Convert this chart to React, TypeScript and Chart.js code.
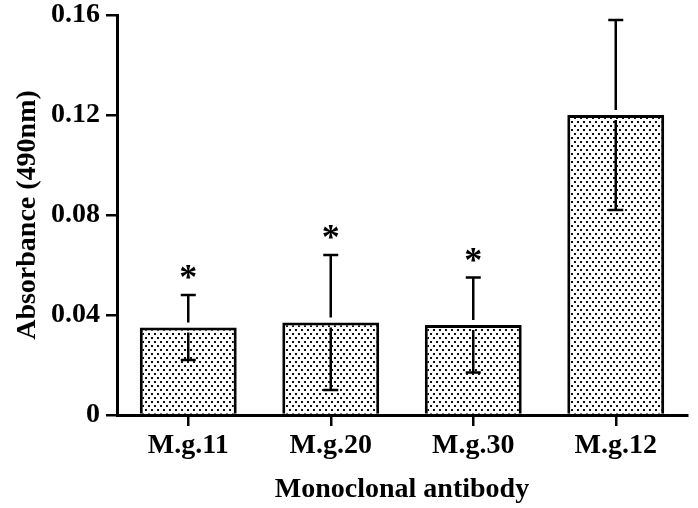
import React, { useEffect, useRef } from "react";
import { Chart, registerables } from "chart.js";

Chart.register(...registerables);

const categories = ["M.g.11", "M.g.20", "M.g.30", "M.g.12"];
const meanValues = [0.035, 0.037, 0.036, 0.12];
const upperValues = [0.048, 0.064, 0.055, 0.158];
const lowerValues = [0.022, 0.01, 0.017, 0.082];
const significant = [true, true, true, false];
const yTicks = [0, 0.04, 0.08, 0.12, 0.16];
const yTitle = "Absorbance (490nm)";
const xTitle = "Monoclonal antibody";

const FONT = "'Liberation Serif', 'Times New Roman', serif";

function makePattern(): CanvasPattern | string {
  const c = document.createElement("canvas");
  c.width = 6;
  c.height = 8;
  const g = c.getContext("2d");
  if (!g) return "#bbb";
  g.fillStyle = "#ffffff";
  g.fillRect(0, 0, 6, 8);
  g.fillStyle = "#111111";
  g.fillRect(1, 1, 2, 2);
  g.fillRect(4, 5, 2, 2);
  const p = g.createPattern(c, "repeat");
  return p || "#bbb";
}

const errorBarPlugin = {
  id: "errorBars",
  afterDatasetsDraw(chart: any) {
    const ctx = chart.ctx;
    const xs = chart.scales.x;
    const ys = chart.scales.y;
    ctx.save();
    ctx.strokeStyle = "#000";
    ctx.fillStyle = "#000";
    ctx.lineWidth = 2.5;
    const cap = 7.5;
    const gap = 5;
    meanValues.forEach((m, i) => {
      const x = xs.getPixelForValue(i);
      const yTop = ys.getPixelForValue(upperValues[i]);
      const yLow = ys.getPixelForValue(lowerValues[i]);
      const yBar = ys.getPixelForValue(m);
      ctx.beginPath();
      ctx.moveTo(x, yTop);
      ctx.lineTo(x, yBar - gap);
      ctx.moveTo(x, yBar + gap);
      ctx.lineTo(x, yLow);
      ctx.moveTo(x - cap, yTop);
      ctx.lineTo(x + cap, yTop);
      ctx.moveTo(x - cap, yLow);
      ctx.lineTo(x + cap, yLow);
      ctx.stroke();
      if (significant[i]) {
        ctx.font = `bold 36px ${FONT}`;
        ctx.textAlign = "center";
        ctx.textBaseline = "alphabetic";
        ctx.fillText("*", x, yTop - 6);
      }
    });
    ctx.restore();
  },
};

export default function App() {
  const ref = useRef<HTMLCanvasElement | null>(null);
  useEffect(() => {
    document.body.style.margin = "0";
    if (!ref.current) return;
    const font = { family: FONT, size: 28, weight: "bold" as const };
    const chart = new Chart(ref.current, {
      type: "bar",
      data: {
        labels: categories,
        datasets: [
          {
            data: meanValues,
            backgroundColor: makePattern() as any,
            borderColor: "#000",
            borderWidth: 3,
            categoryPercentage: 1,
            barPercentage: 0.68,
          },
        ],
      },
      options: {
        responsive: false,
        animation: false,
        devicePixelRatio: 1,
        layout: { padding: { left: 8, top: 0, right: 0, bottom: 0 } },
        plugins: { legend: { display: false }, tooltip: { enabled: false } },
        scales: {
          x: {
            grid: {
              display: true,
              drawOnChartArea: false,
              drawTicks: true,
              tickLength: 11,
              offset: false,
              color: "#000",
              lineWidth: 2.5,
            },
            border: { display: true, color: "#000", width: 3 },
            ticks: { color: "#000", font, padding: 3, maxRotation: 0, autoSkip: false },
            title: { display: true, text: xTitle, color: "#000", font, padding: { top: 0, bottom: 1 } },
            afterFit(scale: any) {
              scale.height = 93;
              scale.paddingLeft = 0;
              scale.paddingRight = 11;
            },
          },
          y: {
            min: 0,
            max: 0.16,
            afterBuildTicks(scale: any) {
              scale.ticks = yTicks.map((v) => ({ value: v }));
            },
            grid: {
              display: true,
              drawOnChartArea: false,
              drawTicks: true,
              tickLength: 11,
              color: "#000",
              lineWidth: 2.5,
            },
            border: { display: true, color: "#000", width: 3 },
            ticks: {
              color: "#000",
              font,
              padding: 6,
              callback: (v: any) => (Number(v) === 0 ? "0" : Number(v).toFixed(2)),
            },
            title: { display: true, text: yTitle, color: "#000", font, padding: { top: 3, bottom: 4 } },
            afterFit(scale: any) {
              scale.width = 109;
              scale.paddingTop = 15;
              scale.paddingBottom = 0;
            },
          },
        },
      },
      plugins: [errorBarPlugin],
    });
    return () => chart.destroy();
  }, []);
  return (
    <div style={{ width: 698, height: 508, background: "#fff" }}>
      <canvas ref={ref} width={698} height={508} style={{ display: "block" }} />
    </div>
  );
}
